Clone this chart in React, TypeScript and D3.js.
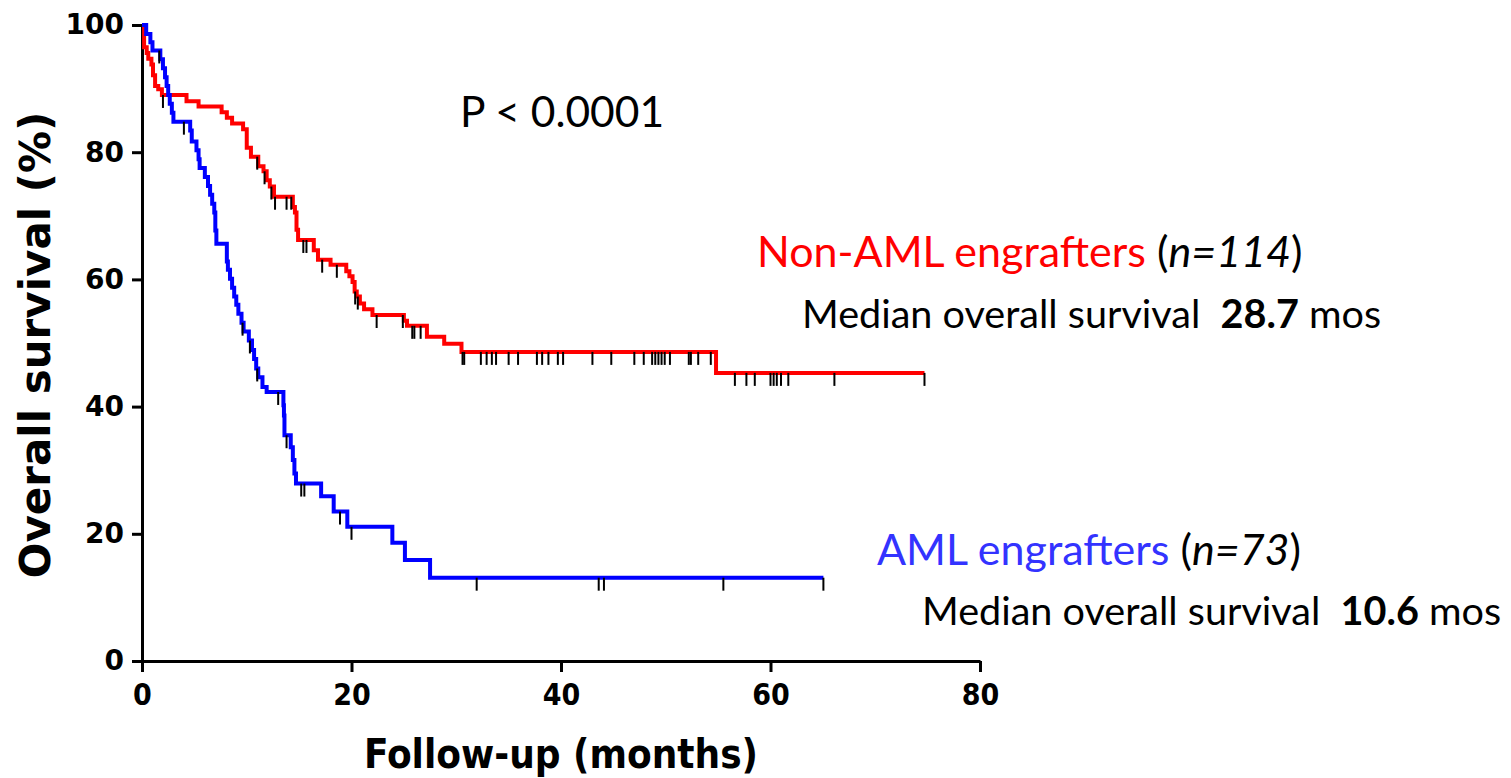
import React, { useEffect, useRef } from 'react';
import * as d3 from 'd3';

// Kaplan-Meier step events (months, survival %)
const redMonths = [0.2, 0.45, 0.6, 0.9, 1.05, 1.25, 1.55, 1.9, 4.25, 5.4, 7.6, 8.1, 8.6, 9.65, 10.0, 10.4, 11.1, 11.6, 11.9, 12.2, 12.6, 14.4, 14.6, 14.75, 14.9, 16.4, 16.8, 18.0, 19.5, 19.8, 20.1, 20.3, 20.5, 20.8, 21.2, 22.0, 25.0, 25.3, 27.2, 28.85, 30.5, 54.8];
const redSurvival = [96.5, 95.6, 94.7, 93.8, 92.1, 90.4, 89.9, 89.0, 88.0, 87.2, 86.3, 85.4, 84.5, 83.6, 80.7, 79.3, 77.8, 77.0, 75.6, 74.6, 73.0, 71.4, 70.5, 67.8, 66.2, 64.6, 63.1, 62.3, 61.3, 60.5, 59.6, 58.1, 57.3, 56.2, 55.3, 54.4, 53.5, 52.7, 51.0, 49.9, 48.6, 45.3];
const redCensored = [2.0, 11.0, 11.7, 12.35, 12.7, 13.8, 14.25, 15.4, 15.7, 17.2, 18.6, 20.35, 20.6, 22.4, 24.9, 25.8, 26.0, 26.6, 30.6, 30.76, 32.35, 32.9, 33.4, 33.8, 35.0, 35.9, 37.7, 38.2, 38.8, 39.7, 40.2, 43.0, 44.8, 47.0, 47.9, 48.7, 49.0, 49.3, 49.6, 49.9, 50.4, 52.2, 52.4, 53.1, 54.3, 56.6, 57.7, 58.5, 60.0, 60.3, 60.6, 61.0, 61.7, 66.1, 74.7];
const redLastMonth = 74.7;

const blueMonths = [0.4, 0.8, 1.0, 1.75, 2.0, 2.2, 2.35, 2.5, 2.65, 2.85, 3.0, 4.6, 4.75, 5.2, 5.4, 5.5, 6.0, 6.3, 6.5, 6.7, 6.9, 7.0, 7.1, 8.1, 8.2, 8.4, 8.6, 8.8, 9.0, 9.2, 9.5, 9.7, 10.2, 10.5, 10.7, 10.9, 11.1, 11.5, 11.9, 13.5, 13.55, 13.6, 14.2, 14.4, 14.55, 14.7, 17.1, 18.3, 19.6, 23.9, 25.1, 27.5];
const blueSurvival = [98.6, 97.3, 96.0, 94.6, 93.2, 91.8, 90.4, 89.0, 87.6, 86.2, 84.8, 83.4, 81.7, 80.3, 78.9, 77.5, 76.1, 74.7, 73.3, 71.9, 70.5, 67.7, 65.6, 62.8, 61.5, 60.1, 58.7, 57.3, 56.0, 54.6, 53.2, 51.8, 50.4, 48.9, 47.5, 46.0, 44.6, 43.1, 42.3, 40.2, 38.6, 35.5, 33.6, 31.6, 29.5, 27.9, 25.9, 23.5, 21.1, 18.6, 15.9, 13.1];
const blueCensored = [1.65, 4.0, 9.6, 10.3, 11.0, 13.0, 13.8, 15.2, 15.5, 18.9, 20.0, 31.95, 43.6, 44.1, 55.5, 65.05];
const blueLastMonth = 65.05;

const xTicks = [0, 20, 40, 60, 80];
const yTicks = [0, 20, 40, 60, 80, 100];

const width = 1511;
const height = 778;

function stepPoints(months: number[], surv: number[], last: number): [number, number][] {
  const pts: [number, number][] = [[0, 100]];
  months.forEach((m, i) => pts.push([m, surv[i]]));
  pts.push([last, surv[surv.length - 1]]);
  return pts;
}

function survivalAt(months: number[], surv: number[], t: number) {
  let s = 100;
  months.forEach((m, i) => {
    if (m <= t) s = surv[i];
  });
  return s;
}

function App() {
  const svgRef = useRef<SVGSVGElement>(null);

  useEffect(() => {
    const svg = d3.select(svgRef.current);
    svg.selectAll('*').remove();

    const x = d3.scaleLinear().domain([0, 80]).range([142, 980]);
    const y = d3.scaleLinear().domain([0, 100]).range([661, 25]);

    // y axis
    const gy = svg
      .append('g')
      .attr('transform', `translate(${x(0)},0)`)
      .call(d3.axisLeft(y).tickValues(yTicks).tickSize(10).tickSizeOuter(0).tickPadding(8));
    gy.selectAll('path, line').attr('stroke', '#000').attr('stroke-width', 3);
    gy.selectAll('text')
      .attr('font-family', 'DejaVu Sans, Verdana, sans-serif')
      .attr('font-weight', 'bold')
      .attr('font-size', 28)
      .attr('fill', '#000');

    // x axis
    const gx = svg
      .append('g')
      .attr('transform', `translate(0,${y(0)})`)
      .call(d3.axisBottom(x).tickValues(xTicks).tickSize(11).tickSizeOuter(0).tickPadding(12));
    gx.selectAll('path, line').attr('stroke', '#000').attr('stroke-width', 3);
    gx.selectAll('text')
      .attr('font-family', 'DejaVu Sans Condensed, DejaVu Sans, sans-serif')
      .attr('font-stretch', 'condensed')
      .attr('font-weight', 'bold')
      .attr('font-size', 30)
      .attr('fill', '#000');

    // axis titles
    svg
      .append('text')
      .attr('transform', `translate(50,${(y(0) + y(100)) / 2 + 2}) rotate(-90)`)
      .attr('text-anchor', 'middle')
      .attr('font-family', 'DejaVu Sans, Verdana, sans-serif')
      .attr('font-weight', 'bold')
      .attr('font-size', 42)
      .text('Overall survival (%)');

    svg
      .append('text')
      .attr('x', (x(0) + x(80)) / 2)
      .attr('y', 768)
      .attr('text-anchor', 'middle')
      .attr('font-family', 'DejaVu Sans Condensed, DejaVu Sans, sans-serif')
      .attr('font-stretch', 'condensed')
      .attr('font-weight', 'bold')
      .attr('font-size', 40)
      .text('Follow-up (months)');

    const line = d3
      .line<[number, number]>()
      .x((d) => x(d[0]))
      .y((d) => y(d[1]))
      .curve(d3.curveStepAfter);

    const curves = [
      { color: '#ff0000', months: redMonths, surv: redSurvival, last: redLastMonth, cens: redCensored },
      { color: '#0000ff', months: blueMonths, surv: blueSurvival, last: blueLastMonth, cens: blueCensored },
    ];

    curves.forEach((c) => {
      svg
        .append('path')
        .attr('d', line(stepPoints(c.months, c.surv, c.last)))
        .attr('fill', 'none')
        .attr('stroke', c.color)
        .attr('stroke-width', 4);
    });

    curves.forEach((c) => {
      svg
        .append('g')
        .selectAll('line')
        .data(c.cens)
        .enter()
        .append('line')
        .attr('x1', (d) => x(d))
        .attr('x2', (d) => x(d))
        .attr('y1', (d) => y(survivalAt(c.months, c.surv, d)))
        .attr('y2', (d) => y(survivalAt(c.months, c.surv, d)) + 13)
        .attr('stroke', '#000')
        .attr('stroke-width', 2);
    });
  }, []);

  const font = 'Lato, Carlito, Calibri, sans-serif';

  return (
    <div style={{ position: 'absolute', left: 0, top: 0 }}>
      <svg ref={svgRef} width={width} height={height} />
      <svg width={width} height={height} style={{ position: 'absolute', left: 0, top: 0 }} fontFamily={font}>
        <text x={460} y={127} fontSize={42.5}>P &lt; 0.0001</text>
        <text x={757} y={267} fontSize={43} style={{ whiteSpace: 'pre' }}>
          <tspan fill="#ff0000">Non-AML engrafters</tspan>
          <tspan> (</tspan>
          <tspan fontStyle="italic">n=114</tspan>
          <tspan>)</tspan>
        </text>
        <text x={802} y={328} fontSize={39.6} style={{ whiteSpace: 'pre' }}>
          <tspan>Median overall survival  </tspan>
          <tspan fontWeight="bold">28.7</tspan>
          <tspan> mos</tspan>
        </text>
        <text x={877} y={565} fontSize={43} style={{ whiteSpace: 'pre' }}>
          <tspan fill="#3333ff">AML engrafters</tspan>
          <tspan> (</tspan>
          <tspan fontStyle="italic">n=73</tspan>
          <tspan>)</tspan>
        </text>
        <text x={922} y={625} fontSize={39.6} style={{ whiteSpace: 'pre' }}>
          <tspan>Median overall survival  </tspan>
          <tspan fontWeight="bold">10.6</tspan>
          <tspan> mos</tspan>
        </text>
      </svg>
    </div>
  );
}

export default App;
